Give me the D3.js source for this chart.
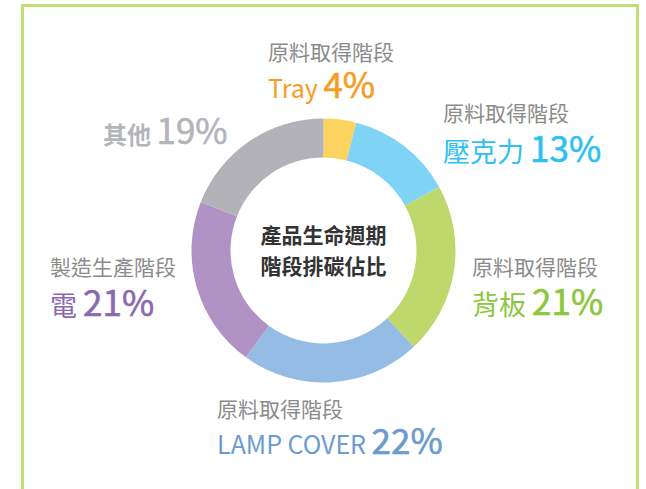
<!DOCTYPE html>
<html>
<head>
<meta charset="utf-8">
<script src="https://cdn.jsdelivr.net/npm/d3@7/dist/d3.min.js"></script>
<style>
  html, body { margin: 0; padding: 0; background: #ffffff; }
  svg { display: block; }
  text { font-family: "Noto Sans CJK TC", "Noto Sans CJK SC", "Noto Sans", sans-serif; }
</style>
</head>
<body>
<svg id="chart" width="646" height="489"></svg>
<script>
// Life-cycle stage of each emission source
const stages = ["原料取得階段", "原料取得階段", "原料取得階段", "原料取得階段", "製造生產階段", ""];
// Emission source names
const categories = ["Tray", "壓克力", "背板", "LAMP COVER", "電", "其他"];
// Share of total carbon emissions (%)
const values = [4, 13, 21, 22, 21, 19];
// Ring slice colours and label colours
const sliceColors = ["#fdd35f", "#7fd3f5", "#bfd86b", "#94bce4", "#b192c4", "#b3b2b8"];
const labelColors = ["#f49d25", "#2cc1ef", "#8dc63f", "#6c9bcd", "#8a69b0", "#b4b4bb"];
// Centre title
const titleLines = ["產品生命週期", "階段排碳佔比"];

// Label anchors: left x, stage-caption baseline, value baseline
const labelLayout = [
  { x: 268, cy: 59.5, vy: 97.5 },
  { x: 443, cy: 121, vy: 162 },
  { x: 472, cy: 275, vy: 314.5 },
  { x: 217, cy: 416.5, vy: 454 },
  { x: 50,  cy: 275, vy: 316 },
  { x: 103, cy: null, vy: 144 }
];

const svg = d3.select("#chart");

// Outer frame (bottom edge runs below the visible area)
svg.append("rect")
  .attr("x", 22.5).attr("y", 5.5)
  .attr("width", 615).attr("height", 700)
  .attr("fill", "none")
  .attr("stroke", "#c3de72")
  .attr("stroke-width", 3);

const cx = 323.5, cy = 250.5;
const outerR = 132, innerR = 93;

const data = categories.map((c, i) => ({ name: c, stage: stages[i], value: values[i], i }));

const pie = d3.pie().value(d => d.value).sort(null);
const arc = d3.arc().innerRadius(innerR).outerRadius(outerR);

const g = svg.append("g").attr("transform", `translate(${cx},${cy})`);
g.selectAll("path")
  .data(pie(data))
  .join("path")
  .attr("d", arc)
  .attr("fill", d => sliceColors[d.data.i]);

// Centre title
g.selectAll("text.title")
  .data(titleLines)
  .join("text")
  .attr("class", "title")
  .attr("x", 0)
  .attr("y", (d, i) => -8 + i * 31)
  .attr("text-anchor", "middle")
  .attr("font-size", 21)
  .attr("font-weight", 700)
  .attr("fill", "#333333")
  .text(d => d);

// Slice labels
const isLatin = s => /^[A-Za-z ]+$/.test(s);
const labels = svg.append("g");
data.forEach((d, i) => {
  const L = labelLayout[i];
  if (d.stage) {
    labels.append("text")
      .attr("x", L.x).attr("y", L.cy)
      .attr("font-size", 21)
      .attr("fill", "#8b8b8b")
      .text(d.stage);
  }
  const isOther = d.stage === "";
  const t = labels.append("text")
    .attr("x", L.x).attr("y", L.vy)
    .attr("fill", labelColors[i]);
  t.append("tspan")
    .attr("font-size", isOther ? 24 : (isLatin(d.name) ? 25 : 27))
    .attr("font-weight", isOther ? 700 : 400)
    .text(d.name + " ");
  t.append("tspan")
    .attr("font-size", 35)
    .attr("font-weight", 400)
    .attr("stroke", labelColors[i])
    .attr("stroke-width", 0.6)
    .text(d.value + "%");
});
</script>
</body>
</html>
